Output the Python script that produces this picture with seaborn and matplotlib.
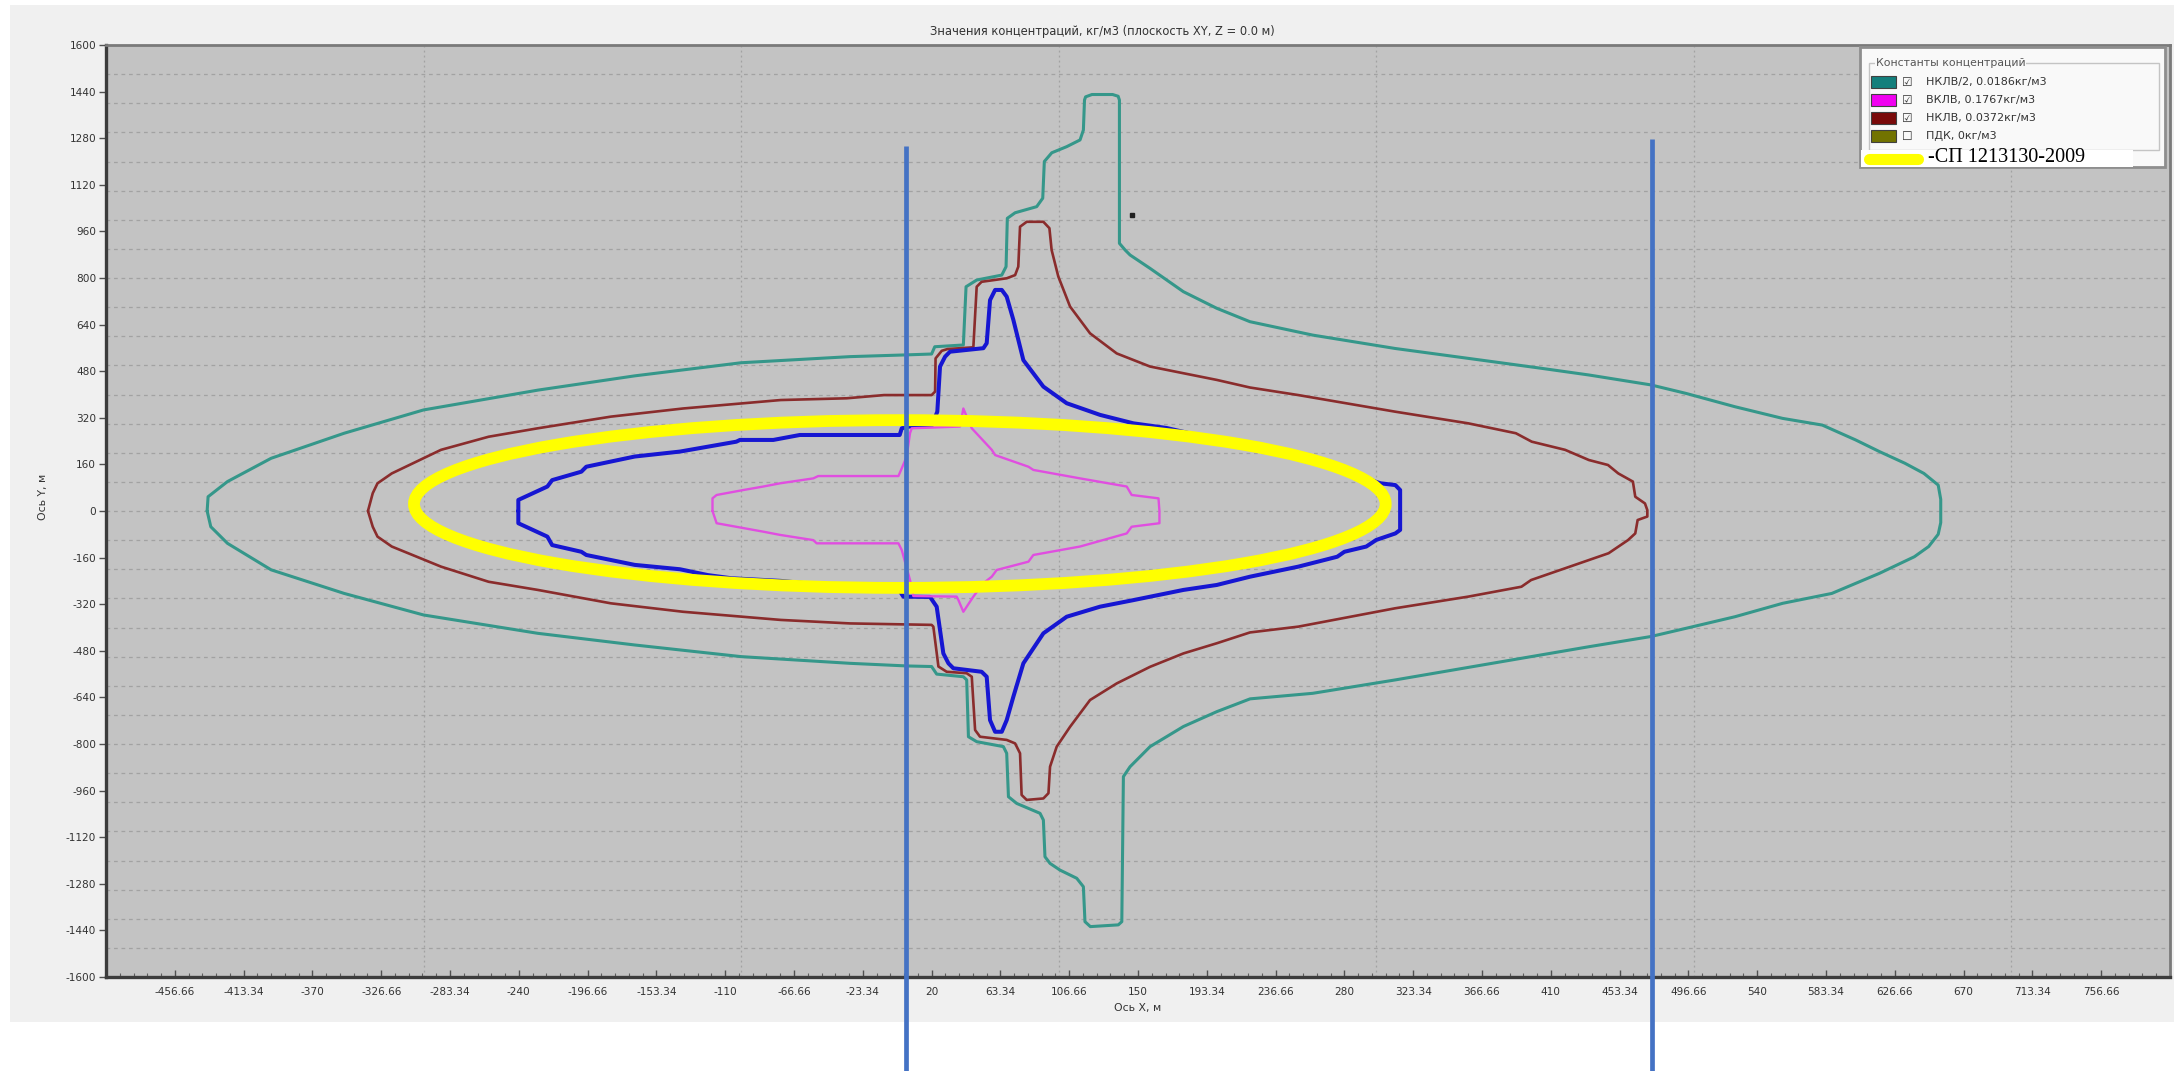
import numpy as np
import pandas as pd
import matplotlib
matplotlib.use("Agg")
import matplotlib.pyplot as plt
from matplotlib.patches import Rectangle, Ellipse
from matplotlib.lines import Line2D
from matplotlib.ticker import FixedLocator, NullFormatter
import seaborn as sns

# ---------------------------------------------------------------- data
title = "Значения концентраций, кг/м3 (плоскость XY, Z = 0.0 м)"
x_label = "Ось X, м"
y_label = "Ось Y, м"

x_tick_labels = ["-456.66", "-413.34", "-370", "-326.66", "-283.34", "-240",
                 "-196.66", "-153.34", "-110", "-66.66", "-23.34", "20",
                 "63.34", "106.66", "150", "193.34", "236.66", "280",
                 "323.34", "366.66", "410", "453.34", "496.66", "540",
                 "583.34", "626.66", "670", "713.34", "756.66"]
y_tick_values = [-1600, -1440, -1280, -1120, -960, -800, -640, -480, -320,
                 -160, 0, 160, 320, 480, 640, 800, 960, 1120, 1280, 1440, 1600]

# НКЛВ/2 isoline (teal)
lel_half_x = [-436.3, -435.7, -423.5, -396, -350, -300, -228, -167, -100, -31.4,
              4, 20, 22, 40, 41.7, 48.4, 64.2, 66.9, 67.7, 72.6, 86.2, 90, 91,
              95.7, 105.1, 113.5, 115.6, 116.3, 117, 121, 134, 137.5, 138.3,
              138.3, 141.9, 145, 157.6, 178.6, 199.6, 220.5, 260, 312, 373, 404,
              434, 473, 495, 526, 556, 581, 602, 617, 633, 645, 654, 655.6,
              655.6, 654, 648, 639, 617, 587, 556, 526, 495, 473, 434, 373, 312,
              260, 220.6, 199.6, 178.6, 157.6, 145, 140.8, 139.8, 137.6, 120,
              116.6, 115.6, 111.4, 100.9, 94.6, 91.4, 90.4, 88.3, 73.6, 68.4,
              67.3, 65.2, 48.4, 43.2, 42.1, 40, 23.2, 20, 4.3, -31.4, -100, -167,
              -228, -300, -350, -396, -423.5, -434, -436.3]
lel_half_y = [0, 49, 101, 181, 267, 347, 415, 464, 509, 530,
              536, 539, 564, 570, 770, 793, 810, 839, 1005, 1024, 1045, 1074, 1200,
              1230, 1251, 1274, 1308, 1411, 1422, 1430, 1430, 1424, 1411,
              919, 896, 879, 833, 753, 696, 650, 604, 558, 513, 490,
              467, 433, 404, 358, 318, 295, 244, 204, 164, 129, 89, 40,
              -40, -80, -122, -157, -214, -283, -317, -363, -403, -431, -466, -523, -580,
              -626, -645, -689, -740, -809, -878, -912, -1410, -1421, -1427,
              -1410, -1290, -1261, -1233, -1210, -1187, -1061, -1038, -1004, -981,
              -832, -809, -792, -775, -580, -569, -560, -534, -532, -523, -500, -460,
              -420, -357, -283, -202, -111, -54, 0]

# ВКЛВ isoline (magenta)
uel_x = [-118, -118, -115.4, -98.6, -86, -75.5, -54.5, -51.4, -0.9, 1.2, 4.3, 6.4,
         7.5, 37.9, 40, 42.1, 45.3, 57.9, 60, 81, 84.1, 113.5, 142.9, 146, 162.9,
         163.5, 163.5, 146, 142.9, 113.5, 84.1, 81, 61, 57.9, 52.6, 46.3, 40, 36.9,
         35.8, 8.5, 6.4, 1.2, -0.9, -52.4, -54.5, -75.5, -86, -115.4, -118]
uel_y = [0, 43.5, 55, 72, 84, 95, 112, 120, 120, 146.5, 187, 267,
         284, 290, 352, 324, 284, 210, 192, 152, 141, 112, 84, 55, 43.5,
         0, -42, -54, -77, -122, -151, -174, -202.5, -225.5, -248, -294, -346, -306,
         -294, -292, -237, -134, -111, -111, -100, -82, -71, -42, 0]

# НКЛВ isoline (dark red)
lel_x = [-335, -332, -329, -320, -289, -259, -228, -182, -136.5, -75, -33.5, -10,
         20, 22.2, 22.5, 26.4, 30, 46.3, 48.4, 51.5, 67.3, 72.6, 74.6, 75.7, 79.9,
         90.4, 94.2, 95.6, 99.8, 107.2, 119.8, 136.6, 157.6, 178.6, 199.7, 220.5,
         251, 312, 358, 388, 398, 419, 434, 446, 452.5, 461.7, 463.2, 469.3, 470.8,
         470.8, 464.7, 463.2, 458.6, 446.4, 434.2, 422, 397.6, 391.5, 358, 312, 251,
         220.5, 199.7, 178.6, 157.6, 136.6, 119.8, 107.2, 98.8, 94.6, 93.6, 90.4,
         79.9, 76.7, 75.7, 72.6, 67.3, 50.5, 47.4, 45.3, 42.1, 29.5, 24.3, 21.1, 20,
         -31.4, -75, -136.5, -182, -228, -259, -289, -320, -329, -332, -335]
lel_y = [0, 61, 95, 129, 210, 255, 284, 324, 352, 381, 387, 398,
         398, 410, 524, 550, 556, 562, 770, 787, 799, 810, 839, 976, 993,
         993, 971, 896, 805, 702, 610, 541, 496, 473, 450, 424,
         398, 341, 301, 267, 238, 210, 175, 158, 129, 101, 49, 26, 3,
         -19, -31, -77, -100, -145, -168, -191, -237, -260, -294, -334, -397,
         -417, -454, -489, -535, -592, -649, -741, -809, -878, -969, -987,
         -992, -975, -832, -798, -786, -775, -752, -569, -557, -552, -534, -397, -391,
         -386, -374, -346, -317, -271, -243, -191, -122, -88, -54, 0]

# Isoline traced inside the НКЛВ zone (blue)
inner_x = [-240.3, -240.3, -222, -219, -200.6, -197.5, -167, -138.5, -103, -100.7,
           -79.7, -63, -0.1, 1.2, 6, 20, 23.6, 25.3, 28.5, 31.6, 52.6, 54.7, 56.8,
           60, 64.2, 67.3, 71.5, 77.8, 90.4, 105.1, 126.1, 147.1, 168, 200, 220,
           251, 282, 300, 302.9, 312.1, 315.1, 315.1, 312.1, 300, 293.8, 280, 275.5,
           251, 220.6, 199.6, 178.6, 147.1, 126.1, 105.1, 90.4, 77.8, 71.5, 67.3,
           64.2, 60, 56.8, 54.7, 51.5, 33.7, 30.6, 27.4, 23.2, 19, 2.2, 0, -40, -75,
           -106, -121, -138.5, -167, -197.5, -200.6, -219, -222, -240.3, -240.3]
inner_y = [0, 38, 84, 106, 135, 152, 187, 204, 238, 244,
           244, 261, 261, 284, 290, 292, 341, 496, 530, 547, 559, 576, 724,
           759, 759, 736, 656, 518, 427, 370, 330, 301, 285, 245, 228,
           192, 140, 100, 95, 89, 72, -65, -77, -99.5, -122, -140, -157,
           -191, -225.5, -254, -271, -306, -328.5, -363, -420, -523, -637.5, -718,
           -758, -758, -718, -569, -552, -540, -523, -489, -328.5, -295, -294, -275,
           -258, -240, -231, -220, -200, -185, -151, -140, -117, -88, -42, 0]

# СП 12.13130-2009 zone outline: centre and full axes of the ellipse, m
zone_center = (0, 24)
zone_width = 612
zone_height = 576

# Vertical markers: x position, top end (bottom runs past the axes)
marker_x = [4, 474]
marker_top = [1253, 1277]

legend_title = "Константы концентраций"
legend_labels = ["НКЛВ/2, 0.0186кг/м3", "ВКЛВ, 0.1767кг/м3",
                 "НКЛВ, 0.0372кг/м3", "ПДК, 0кг/м3"]
legend_checked = [True, True, True, False]
legend_swatches = ["#137f7c", "#f000f0", "#7a0a0a", "#727300"]
zone_label = "-СП 1213130-2009"

# ---------------------------------------------------------------- styling
sns.set_style("ticks")
plt.rcParams["font.family"] = ["DejaVu Sans"]

W, H = 2174, 1071
fig = plt.figure(figsize=(W / 100, H / 100), dpi=100, facecolor="white")


def fx(px):
    return px / W


def fy(py):
    return 1 - py / H


# window panel
fig.patches.append(Rectangle((fx(10), fy(1022)), fx(2174) - fx(10), fy(5) - fy(1022),
                             transform=fig.transFigure, facecolor="#f0f0f0",
                             edgecolor="none", zorder=-10))

ax = fig.add_axes([fx(106), fy(977), fx(2170) - fx(106), fy(45) - fy(977)])
ax.set_facecolor("#c3c3c3")
ax.set_xlim(-500, 800)
ax.set_ylim(-1600, 1600)

for side in ["left", "bottom"]:
    ax.spines[side].set_color("#3c3c3c")
    ax.spines[side].set_linewidth(2.4)
for side in ["top", "right"]:
    ax.spines[side].set_color("#7a7a7a")
    ax.spines[side].set_linewidth(2.0)
    ax.spines[side].set_visible(True)

# grid
for gy in np.arange(-1500, 1600, 100):
    ax.axhline(gy, color="#a2a2a2", lw=0.9, ls=(0, (3, 3)), zorder=0.5)
for gx in np.arange(-300, 800, 200):
    ax.axvline(gx, color="#a2a2a2", lw=0.9, ls=(0, (1.5, 2.5)), zorder=0.5)

# ticks
x_tick_pos = [float(s) for s in x_tick_labels]
ax.xaxis.set_major_locator(FixedLocator(x_tick_pos))
ax.set_xticklabels(x_tick_labels)
ax.xaxis.set_minor_locator(FixedLocator(np.linspace(-500, 800, 151)))
ax.xaxis.set_minor_formatter(NullFormatter())
ax.tick_params(axis="x", which="major", direction="in", length=5, width=1,
               color="#505050", pad=7, labelsize=7.6, labelcolor="#333333")
ax.tick_params(axis="x", which="minor", direction="in", length=3, width=0.8,
               color="#606060")
ax.set_yticks(y_tick_values)
ax.set_yticklabels([str(v) for v in y_tick_values])
ax.tick_params(axis="y", which="major", direction="out", length=5, width=1,
               color="#505050", pad=2, labelsize=7.6, labelcolor="#333333")

# isolines
contours = [
    (lel_half_x, lel_half_y, "#35978a", 2.2),
    (lel_x, lel_y, "#8a2c2c", 1.9),
    (inner_x, inner_y, "#1616d2", 2.9),
    (uel_x, uel_y, "#e04ee0", 1.7),
]
for cx, cy, col, lw in contours:
    df = pd.DataFrame({"x": cx, "y": cy})
    sns.lineplot(data=df, x="x", y="y", sort=False, estimator=None, color=col,
                 linewidth=lw, ax=ax, legend=False, zorder=3)
ax.set_xlabel("")
ax.set_ylabel("")

# regulatory zone outline
ax.add_patch(Ellipse(zone_center, zone_width, zone_height, fill=False,
                     edgecolor="#ffff00", linewidth=8.5, zorder=4))

# small marker dot
ax.plot([146], [1016], marker="s", ms=2.2, color="#202020", zorder=5)

# vertical markers running below the axes
for mx, mt in zip(marker_x, marker_top):
    ax.plot([mx, mx], [mt, -2000], color="#4472c4", lw=3.4, clip_on=False,
            zorder=10, solid_capstyle="butt")

# titles
fig.text(fx(1102), fy(31), title, ha="center", va="center", fontsize=8.3,
         color="#333333")
fig.text(fx(1138), fy(1008), x_label, ha="center", va="center", fontsize=7.8,
         color="#333333")
fig.text(fx(43), fy(497), y_label, ha="center", va="center", rotation=90,
         fontsize=7.8, color="#333333")

# legend panel
fig.patches.append(Rectangle((fx(1860), fy(167)), fx(2165) - fx(1860), fy(47) - fy(167),
                             transform=fig.transFigure, facecolor="#f9f9f9",
                             edgecolor="#8e8e8e", lw=2.0, zorder=20))
fig.patches.append(Rectangle((fx(1869), fy(150)), fx(2159) - fx(1869), fy(63) - fy(150),
                             transform=fig.transFigure, facecolor="none",
                             edgecolor="#c4c4c4", lw=1.0, zorder=21))
fig.text(fx(1876), fy(63), legend_title, ha="left", va="center", fontsize=7.8,
         color="#555555", zorder=23,
         bbox=dict(facecolor="#f9f9f9", edgecolor="none", pad=0.5))
row_y = [82, 100, 118, 136]
for yy, lab, chk, col in zip(row_y, legend_labels, legend_checked, legend_swatches):
    fig.patches.append(Rectangle((fx(1871), fy(yy + 6)), fx(1896) - fx(1871),
                                 fy(yy - 6) - fy(yy + 6), transform=fig.transFigure,
                                 facecolor=col, edgecolor="#404040", lw=0.8,
                                 zorder=22))
    fig.text(fx(1907), fy(yy), "☑" if chk else "☐", ha="center", va="center",
             fontsize=8.5, color="#303030", zorder=23)
    fig.text(fx(1926), fy(yy), lab, ha="left", va="center", fontsize=8.0,
             color="#333333", zorder=23)

fig.patches.append(Rectangle((fx(1861), fy(167)), fx(2133) - fx(1861), fy(150) - fy(167),
                             transform=fig.transFigure, facecolor="white",
                             edgecolor="none", zorder=24))
fig.lines.append(Line2D([fx(1869), fx(1918)], [fy(159), fy(159)],
                        transform=fig.transFigure, color="#ffff00", lw=8,
                        solid_capstyle="round", zorder=25))
fig.text(fx(1928), fy(158), zone_label, ha="left", va="center", fontsize=14.5,
         family=["Liberation Serif", "DejaVu Serif"], color="black", zorder=25)

fig.savefig("out.png", dpi=100, facecolor="white")
